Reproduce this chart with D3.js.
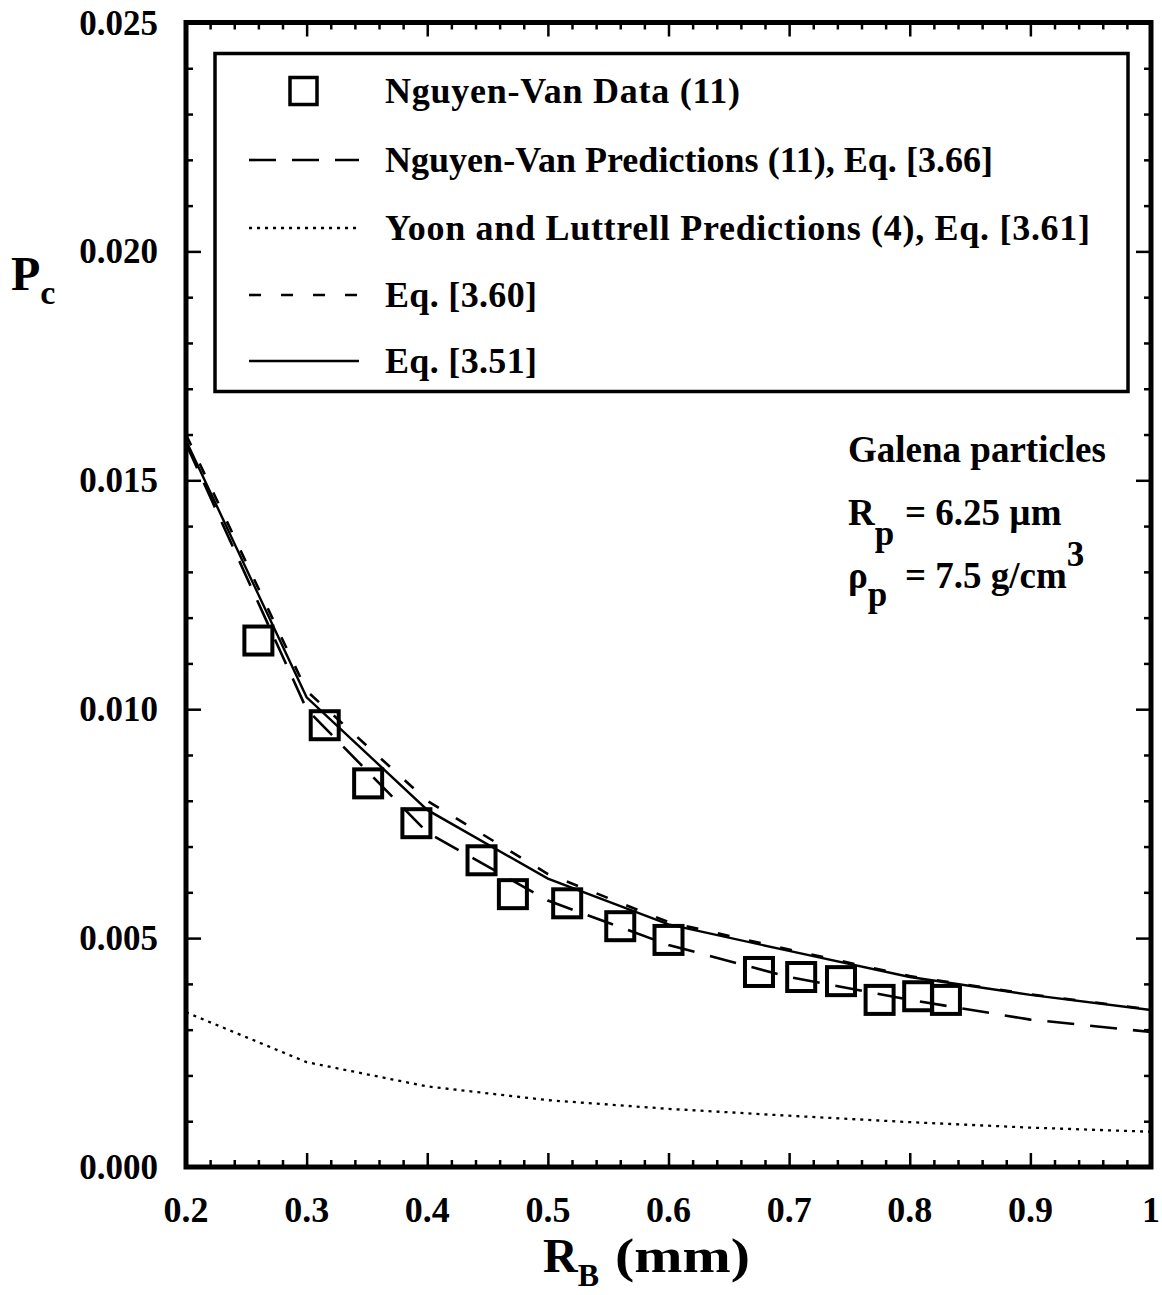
<!DOCTYPE html>
<html>
<head>
<meta charset="utf-8">
<script src="https://cdn.jsdelivr.net/npm/d3@7"></script>
<style>
  html, body { margin: 0; padding: 0; background: #fff; }
  svg { display: block; }
  text { font-family: "Liberation Serif", "Times New Roman", serif; font-weight: bold; fill: #000; }
</style>
</head>
<body>
<svg id="chart" width="1162" height="1295"></svg>
<script>
// Bubble radius R_B (mm) at which the model curves are evaluated
const curveRB = [0.2, 0.3, 0.4, 0.5, 0.6, 0.7, 0.8, 0.9, 1.0];

// Collision probability P_c predicted by each model
const nguyenVanPred = [0.0158, 0.0100, 0.00731, 0.00582, 0.00485, 0.00415, 0.00365, 0.00322, 0.00295];
const yoonLuttrellPred = [0.00338, 0.00229, 0.00176, 0.00146, 0.00127, 0.00112, 0.00098, 0.00086, 0.00077];
const eq360 = [0.0160, 0.0104, 0.0080, 0.0064, 0.00535, 0.00475, 0.00417, 0.00377, 0.00344];
const eq351 = [0.01587, 0.01026, 0.0078, 0.0063, 0.0053, 0.00472, 0.00415, 0.00376, 0.00343];

// Measured collision probabilities (Nguyen-Van)
const dataRB = [0.26, 0.315, 0.351, 0.391, 0.445, 0.471, 0.516, 0.560, 0.600, 0.675, 0.710, 0.743, 0.775, 0.807, 0.830];
const dataPc = [0.0115, 0.00965, 0.00838, 0.00751, 0.0067, 0.00596, 0.00576, 0.00526, 0.00496, 0.00426, 0.00415, 0.00406, 0.00365, 0.00373, 0.00365];

// Tick labels
const xTickValues = [0.2, 0.3, 0.4, 0.5, 0.6, 0.7, 0.8, 0.9, 1.0];
const xTickLabels = ["0.2", "0.3", "0.4", "0.5", "0.6", "0.7", "0.8", "0.9", "1"];
const yTickValues = [0, 0.005, 0.010, 0.015, 0.020, 0.025];
const yTickLabels = ["0.000", "0.005", "0.010", "0.015", "0.020", "0.025"];

// Legend entries
const legendLabels = [
  "Nguyen-Van Data (11)",
  "Nguyen-Van Predictions (11), Eq. [3.66]",
  "Yoon and Luttrell Predictions (4), Eq. [3.61]",
  "Eq. [3.60]",
  "Eq. [3.51]"
];

const svg = d3.select("#chart");
const plotLeft = 186, plotRight = 1151, plotTop = 22.5, plotBottom = 1167;
const x = d3.scaleLinear().domain([0.2, 1.0]).range([plotLeft, plotRight]);
const y = d3.scaleLinear().domain([0, 0.025]).range([plotBottom, plotTop]);

const minorX = d3.range(0, 41).map(i => 0.2 + i * 0.02).filter(v => Math.abs(Math.round(v * 10) - v * 10) > 1e-6);
const minorY = d3.range(0, 26).map(i => i * 0.001).filter(v => Math.abs(Math.round(v * 200) - v * 200) > 1e-6);

// Axes: ticks point inward on all four sides
function drawAxis(axisFn, scale, transform, values, size) {
  const g = svg.append("g").attr("transform", transform)
    .call(axisFn(scale).tickValues(values).tickSize(-size).tickFormat(""));
  g.select(".domain").remove();
  g.selectAll(".tick line").attr("stroke", "#000").attr("stroke-width", 2.5);
  return g;
}
drawAxis(d3.axisBottom, x, `translate(0,${plotBottom})`, xTickValues, 14);
drawAxis(d3.axisBottom, x, `translate(0,${plotBottom})`, minorX, 7);
drawAxis(d3.axisTop, x, `translate(0,${plotTop})`, xTickValues, 14);
drawAxis(d3.axisTop, x, `translate(0,${plotTop})`, minorX, 7);
drawAxis(d3.axisLeft, y, `translate(${plotLeft},0)`, yTickValues, 15);
drawAxis(d3.axisLeft, y, `translate(${plotLeft},0)`, minorY, 7);
drawAxis(d3.axisRight, y, `translate(${plotRight},0)`, yTickValues, 15);
drawAxis(d3.axisRight, y, `translate(${plotRight},0)`, minorY, 7);

// Tick labels
svg.append("g").selectAll("text").data(xTickValues).join("text")
  .attr("x", d => x(d)).attr("y", 1222)
  .attr("text-anchor", "middle").attr("font-size", 36)
  .text((d, i) => xTickLabels[i]);
svg.append("g").selectAll("text").data(yTickValues).join("text")
  .attr("x", 158).attr("y", d => y(d) + 12)
  .attr("text-anchor", "end").attr("font-size", 35)
  .text((d, i) => yTickLabels[i]);

// Model curves
const line = d3.line().x((d, i) => x(curveRB[i])).y(d => y(d)).curve(d3.curveLinear);
svg.append("clipPath").attr("id", "plotClip")
  .append("rect").attr("x", plotLeft).attr("y", plotTop)
  .attr("width", plotRight - plotLeft).attr("height", plotBottom - plotTop);

const series = [
  { values: yoonLuttrellPred, dash: "3,5", width: 2.3 },
  { values: nguyenVanPred, dash: "27,16", width: 2.6 },
  { values: eq360, dash: "12,20", width: 2.6 },
  { values: eq351, dash: null, width: 2.4 }
];
const curves = svg.append("g").attr("clip-path", "url(#plotClip)");
series.forEach(s => {
  curves.append("path").datum(s.values)
    .attr("d", line)
    .attr("fill", "none").attr("stroke", "#000")
    .attr("stroke-width", s.width)
    .attr("stroke-dasharray", s.dash);
});

// Data squares
const sq = 28;
svg.append("g").selectAll("rect").data(dataRB).join("rect")
  .attr("x", d => x(d) - sq / 2)
  .attr("y", (d, i) => y(dataPc[i]) - sq / 2)
  .attr("width", sq).attr("height", sq)
  .attr("fill", "none").attr("stroke", "#000").attr("stroke-width", 4);

// Plot frame
svg.append("rect").attr("x", plotLeft).attr("y", plotTop)
  .attr("width", plotRight - plotLeft).attr("height", plotBottom - plotTop)
  .attr("fill", "none").attr("stroke", "#000").attr("stroke-width", 5);

// Legend
const lg = svg.append("g");
lg.append("rect").attr("x", 215).attr("y", 53.5).attr("width", 913).attr("height", 338)
  .attr("fill", "#fff").attr("stroke", "#000").attr("stroke-width", 3.5);
const rowY = [91, 160, 228, 295, 361];
const rowWidth = [355, 608, 705, 152, 152];
lg.append("rect").attr("x", 290).attr("y", rowY[0] - 13.5).attr("width", 27).attr("height", 27)
  .attr("fill", "none").attr("stroke", "#000").attr("stroke-width", 3.5);
[series[1], series[0], series[2], series[3]].forEach((s, i) => {
  lg.append("line").attr("x1", 249).attr("x2", 359)
    .attr("y1", rowY[i + 1]).attr("y2", rowY[i + 1])
    .attr("stroke", "#000").attr("stroke-width", s.width)
    .attr("stroke-dasharray", s.dash);
});
lg.selectAll("text").data(legendLabels).join("text")
  .attr("x", 385).attr("y", (d, i) => rowY[i] + 12)
  .attr("font-size", 36)
  .attr("textLength", (d, i) => rowWidth[i])
  .attr("lengthAdjust", "spacing")
  .text(d => d);

// Particle properties
const note = svg.append("g");
note.append("text").attr("x", 848).attr("y", 462).attr("font-size", 37).text("Galena particles");
const t1 = note.append("text").attr("x", 848).attr("y", 525).attr("font-size", 37);
t1.append("tspan").text("R");
t1.append("tspan").attr("dy", 20).attr("font-size", 35).text("p");
t1.append("tspan").attr("x", 905).attr("dy", -20).text("= 6.25 \u00b5m");
const t2 = note.append("text").attr("x", 848).attr("y", 588).attr("font-size", 37);
t2.append("tspan").text("\u03c1");
t2.append("tspan").attr("dy", 18).attr("font-size", 35).text("p");
t2.append("tspan").attr("x", 905).attr("dy", -18).text("= 7.5 g/cm");
t2.append("tspan").attr("dy", -22).attr("font-size", 35).text("3");

// Axis titles
const yt = svg.append("text").attr("x", 11).attr("y", 290).attr("font-size", 48);
yt.append("tspan").text("P");
yt.append("tspan").attr("dy", 14).attr("font-size", 34).text("c");
const xt = svg.append("text").attr("x", 543).attr("y", 1272).attr("font-size", 48);
xt.append("tspan").text("R");
xt.append("tspan").attr("dy", 14).attr("font-size", 32).text("B");
xt.append("tspan").attr("x", 615).attr("dy", -14)
  .attr("textLength", 135).attr("lengthAdjust", "spacingAndGlyphs").text("(mm)");
</script>
</body>
</html>
